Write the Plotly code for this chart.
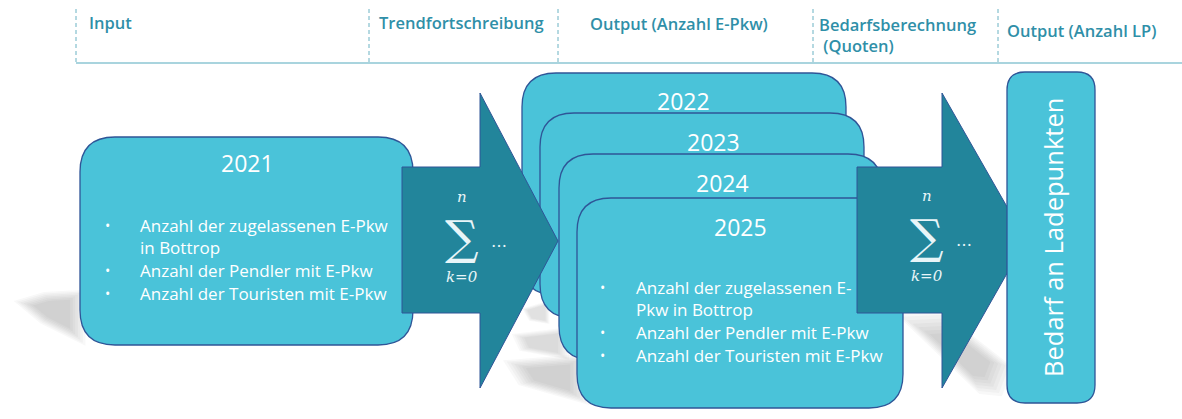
import plotly.graph_objects as go

# ---------------- content ----------------
header_labels = ["Input", "Trendfortschreibung", "Output (Anzahl E-Pkw)",
                 "Bedarfsberechnung<br>\u00a0(Quoten)", "Output (Anzahl LP)"]
input_year = "2021"
output_years = ["2022", "2023", "2024", "2025"]
input_lines = ["Anzahl der zugelassenen E-Pkw", "in Bottrop",
               "Anzahl der Pendler mit E-Pkw", "Anzahl der Touristen mit E-Pkw"]
input_bullets = [True, False, True, True]
output_lines = ["Anzahl der zugelassenen E-", "Pkw in Bottrop",
                "Anzahl der Pendler mit E-Pkw", "Anzahl der Touristen mit E-Pkw"]
output_bullets = [True, False, True, True]
sum_upper = "n"
sum_lower = "k=0"
lp_label = "Bedarf an Ladepunkten"

# ---------------- style ----------------
W, H = 1182, 419
CYAN = "#4ac3d9"
TEAL = "#22859b"
EDGE = "#2f5597"
HEAD = "#2f8fa8"
FONT = "Open Sans"

shapes = []
ann = []


def rrect(x0, y0, x1, y1, r):
    return (f"M{x0+r},{y0} L{x1-r},{y0} Q{x1},{y0} {x1},{y0+r} "
            f"L{x1},{y1-r} Q{x1},{y1} {x1-r},{y1} L{x0+r},{y1} "
            f"Q{x0},{y1} {x0},{y1-r} L{x0},{y0+r} Q{x0},{y0} {x0+r},{y0} Z")


def poly(pts):
    return "M" + " L".join(f"{x:.1f},{y:.1f}" for x, y in pts) + " Z"


def shadow(pts, n=7, op=0.035):
    cx = sum(p[0] for p in pts) / len(pts)
    cy = sum(p[1] for p in pts) / len(pts)
    for i in range(n):
        s = 1.12 - 0.09 * i
        q = [(cx + (x - cx) * s, cy + (y - cy) * s) for x, y in pts]
        shapes.append(dict(type="path", path=poly(q), fillcolor=f"rgba(60,60,60,{op})",
                           line=dict(width=0), layer="below"))


def box(x0, y0, x1, y1, r):
    shapes.append(dict(type="path", path=rrect(x0, y0, x1, y1, r), fillcolor=CYAN,
                       line=dict(color=EDGE, width=1.3), layer="above"))


def arrow(bx0, by0, bx1, by1, hy0, tipx, tipy, hy1):
    pts = [(bx0, by0), (bx1, by0), (bx1, hy0), (tipx, tipy), (bx1, hy1), (bx1, by1), (bx0, by1)]
    shapes.append(dict(type="path", path=poly(pts), fillcolor=TEAL,
                       line=dict(color=EDGE, width=1.0), layer="above"))


def text(x, y, t, size, color="white", xanchor="left", family=FONT, angle=0,
         weight=None, align="left", yanchor="middle"):
    f = dict(family=family, size=size, color=color)
    if weight:
        f["weight"] = weight
    ann.append(dict(x=x, y=y, xref="x", yref="y", text=t, showarrow=False,
                    xanchor=xanchor, yanchor=yanchor, font=f, textangle=angle, align=align))


# ---------------- header ----------------
shapes.append(dict(type="line", x0=76, x1=W, y0=63, y1=63,
                   line=dict(color="#8cc6d3", width=1.5), layer="below"))
for xv in [76, 369, 558, 813, 998]:
    shapes.append(dict(type="line", x0=xv, x1=xv, y0=9, y1=62,
                       line=dict(color="#6ab2c3", width=1, dash="4px,3px"), layer="below"))
head_pos = [(87, 22), (377, 22), (588, 23), (817, 35), (1005, 30)]
for (hx, hy), lab in zip(head_pos, header_labels):
    text(hx, hy, lab, 16.5, color=HEAD, weight=600)

# ---------------- shadows ----------------
shadow([(82, 292), (45, 294), (18, 302), (42, 322), (82, 342)])
shadow([(548, 302), (524, 309), (530, 320), (548, 323)], n=5, op=0.03)
shadow([(566, 329), (515, 335), (522, 350), (566, 358)], n=6, op=0.03)
shadow([(585, 356), (508, 362), (522, 384), (585, 402)], n=7, op=0.035)
shadow([(903, 318), (944, 316), (1008, 366), (998, 392), (978, 390)], n=7, op=0.035)

# ---------------- input box ----------------
box(80, 137, 413, 345, 35)
text(247, 163, input_year, 23, xanchor="center")
in_y = [225, 247, 270, 293]
for yy, t, b in zip(in_y, input_lines, input_bullets):
    if b:
        text(107, yy, "•", 14, xanchor="center")
    text(138, yy, t, 17)

# ---------------- stacked output boxes ----------------
stack = [(522, 73, 846, 295), (540, 113, 864, 318), (559, 154, 882, 360), (577, 198, 903, 408)]
year_pos = [(683, 101), (713, 142), (722, 183), (740, 227)]

for (x0, y0, x1, y1) in stack[:3]:
    box(x0, y0, x1, y1, 34)
arrow(402, 167, 480, 313, 93, 558, 241, 388)
box(*stack[3], 34)
for (yx, yy), yr in zip(year_pos, output_years):
    text(yx, yy, yr, 23, xanchor="center")

out_y = [287, 309, 332, 355]
for yy, t, b in zip(out_y, output_lines, output_bullets):
    if b:
        text(602, yy, "•", 14, xanchor="center")
    text(634, yy, t, 17)

# ---------------- arrow 2 ----------------
arrow(857, 167, 942, 313, 93, 1026, 240, 388)

# sums: limits sit just outside the sigma's text box
SUMC = "#e9f5f8"
for cx, cy in [(462, 237), (927, 236)]:
    text(cx, cy, "∑", 47, color=SUMC, xanchor="center", family="DejaVu Serif", align="center")
    text(cx, cy - 29, f"<i>{sum_upper}</i>", 15, color=SUMC, xanchor="center",
         family="DejaVu Serif", align="center", yanchor="bottom")
    text(cx, cy + 29, f"<i>{sum_lower}</i>", 15, color=SUMC, xanchor="center",
         family="DejaVu Serif", align="center", yanchor="top")
    text(cx + 27, cy + 4, "…", 16, color=SUMC, family="DejaVu Serif")

# ---------------- LP box ----------------
box(1007, 72, 1095, 403, 18)
text(1053, 238, lp_label, 25.5, angle=-90, xanchor="center", align="center")

fig = go.Figure()
fig.update_layout(
    width=W, height=H, autosize=False,
    margin=dict(l=0, r=0, t=0, b=0),
    paper_bgcolor="white", plot_bgcolor="white",
    xaxis=dict(range=[0, W], visible=False, fixedrange=True),
    yaxis=dict(range=[H, 0], visible=False, fixedrange=True),
    shapes=shapes, annotations=ann, showlegend=False,
)
fig.write_html("out.html", config={"displayModeBar": False},
               post_script="document.body.style.margin='0';document.body.style.overflow='hidden';")
